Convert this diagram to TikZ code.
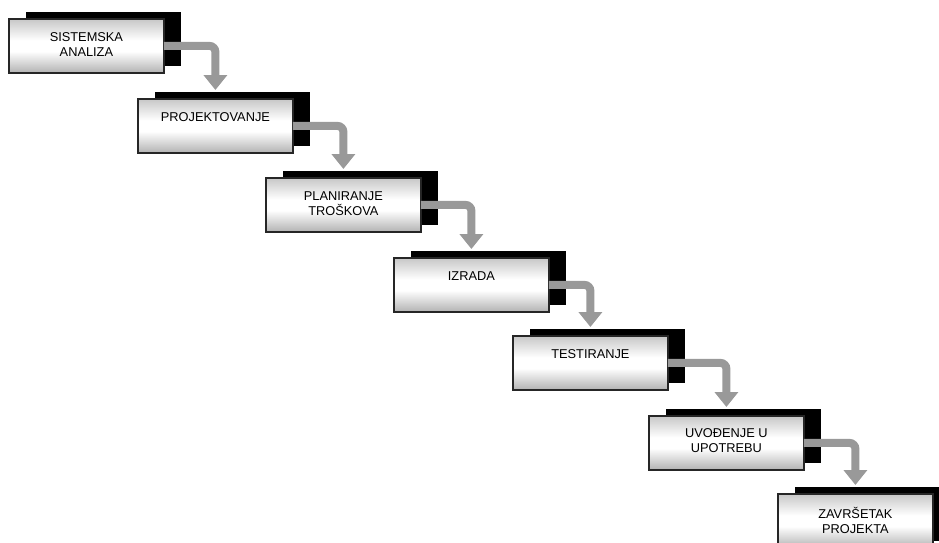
\documentclass[tikz,border=0pt]{standalone}
\usepackage{fontspec}
\setmainfont{Liberation Sans}
\usetikzlibrary{positioning,shadows,arrows.meta}

\pgfdeclareverticalshading{stageshade}{100bp}{color(0bp)=(black!30); color(25bp)=(black!30);
  color(45bp)=(white); color(55bp)=(white); color(75bp)=(black!22); color(100bp)=(black!22)}

\begin{document}
\begin{tikzpicture}[x=1pt,y=-1pt,
    stage/.style={anchor=north west, minimum width=155pt, minimum height=54pt, inner sep=0pt,
      draw=black!85, line width=1.8pt, shading=stageshade,
      general shadow={fill=black, shadow xshift=17pt, shadow yshift=7pt}},
    txt/.style={anchor=north, inner sep=0pt, align=center, font=\fontsize{12.8pt}{15pt}\selectfont},
    flow/.style={draw=black!40, line width=8pt, rounded corners=6pt,
      -{Triangle[width=23pt,length=15pt]}}]
    \useasboundingbox (0,0) rectangle (939,543);
    \clip (0,0) rectangle (939,543);

    \node[stage](s1) at (8,18){};
    \node[stage](s2) at (137,98){};
    \node[stage](s3) at (265,177){};
    \node[stage](s4) at (393,257){};
    \node[stage](s5) at (512,335){};
    \node[stage](s6) at (648,415){};
    \node[stage](s7) at (777,493){};

    \node[txt, below=14pt of s1.north](t1){SISTEMSKA\\ANALIZA};
    \node[txt, below=14pt of s2.north](t2){PROJEKTOVANJE};
    \node[txt, below=14pt of s3.north](t3){PLANIRANJE\\TROŠKOVA};
    \node[txt, below=14pt of s4.north](t4){IZRADA};
    \node[txt, below=14pt of s5.north](t5){TESTIRANJE};
    \node[txt, below=13pt of s6.north](t6){UVOĐENJE U\\UPOTREBU};
    \node[txt, below=14pt of s7.north](t7){ZAVRŠETAK\\PROJEKTA};

    \draw[flow]([xshift=-1pt]s1.east)-|([yshift=8pt]s2.north);
    \draw[flow]([xshift=-1pt]s2.east)-|([yshift=8pt]s3.north);
    \draw[flow]([xshift=-1pt]s3.east)-|([yshift=8pt]s4.north);
    \draw[flow]([xshift=-1pt]s4.east)-|([yshift=8pt]s5.north);
    \draw[flow]([xshift=-1pt]s5.east)-|([yshift=8pt]s6.north);
    \draw[flow]([xshift=-1pt]s6.east)-|([yshift=8pt]s7.north);
\end{tikzpicture}
\end{document}
